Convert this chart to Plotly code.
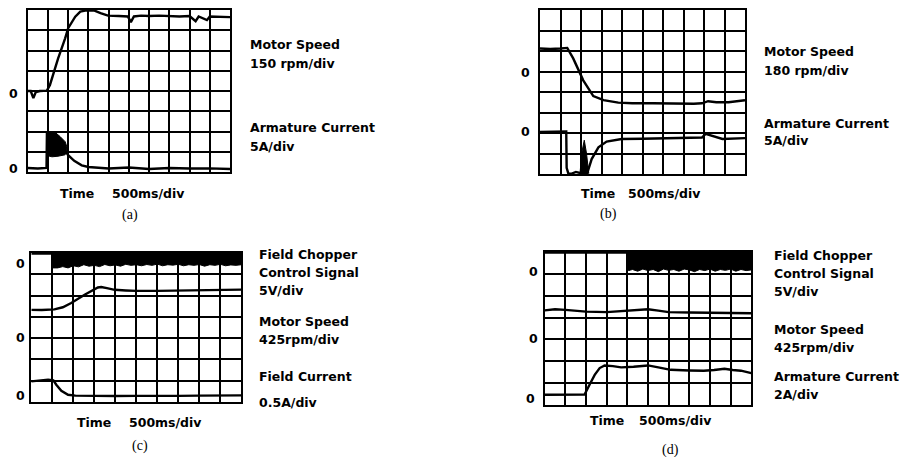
import plotly.graph_objects as go

W, H = 901, 457

# ---------------- data (divisions: x 0..10, y 0..rows) ----------------
# (a)
a_speed_x = [0, 0.15, 0.28, 0.4, 0.6, 0.95, 1.1, 1.5, 1.85, 2.0, 2.35, 2.6, 2.9, 3.3, 3.6, 3.97, 4.5, 4.95, 5.1, 5.25, 5.6, 6.0, 6.5, 7.0, 7.5, 8.0, 8.3, 8.45, 8.86, 9.0, 9.5, 10]
a_speed_y = [4.0, 4.0, 3.65, 3.95, 4.0, 4.02, 4.3, 5.6, 6.6, 7.1, 7.67, 7.92, 7.98, 7.97, 7.85, 7.72, 7.7, 7.68, 7.4, 7.68, 7.72, 7.7, 7.72, 7.7, 7.68, 7.7, 7.45, 7.68, 7.5, 7.68, 7.68, 7.65]
a_cur_x = [0, 0.5, 0.93, 0.95, 1.3, 1.9, 2.0, 2.3, 2.67, 3.0, 3.5, 4.0, 5.0, 6.0, 7.0, 8.0, 9.0, 10]
a_cur_y = [0.2, 0.17, 0.2, 1.92, 1.95, 1.0, 0.83, 0.55, 0.33, 0.25, 0.2, 0.17, 0.22, 0.15, 0.2, 0.17, 0.18, 0.15]
a_blob_x = [1.0, 1.4, 1.6, 1.85, 1.95, 1.85, 1.5, 1.2, 1.0]
a_blob_y = [1.9, 1.92, 1.75, 1.5, 1.2, 0.85, 0.78, 0.75, 0.8]

# (b)
b_speed_x = [0, 0.5, 1.0, 1.33, 1.62, 2.11, 2.6, 3.1, 3.82, 4.5, 5.5, 6.5, 7.5, 7.9, 8.2, 8.6, 9.2, 10]
b_speed_y = [6.12, 6.1, 6.12, 6.15, 5.64, 4.57, 3.8, 3.6, 3.48, 3.45, 3.45, 3.43, 3.43, 3.45, 3.55, 3.5, 3.5, 3.6]
b_cur_x = [0, 0.5, 1.28, 1.3, 1.38, 1.55, 1.75, 1.95, 2.3, 2.52, 2.85, 3.25, 3.98, 5.0, 6.0, 7.0, 7.9, 8.08, 8.5, 8.9, 10]
b_cur_y = [2.05, 2.07, 2.07, 0.3, 0.03, 0.02, 0.1, 0.05, 0.03, 0.73, 1.3, 1.58, 1.71, 1.72, 1.74, 1.75, 1.78, 1.96, 1.82, 1.71, 1.75]
b_spike_x = [1.95, 2.05, 2.16, 2.27, 2.38]
b_spike_y = [0.02, 1.1, 1.65, 1.0, 0.02]

# (c)
c_chop_x = [0, 0.5, 1.0, 1.02]
c_chop_y = [6.97, 6.97, 6.97, 6.3]
c_band_x = [1.0, 1.25, 1.5, 1.75, 2.0, 2.25, 2.5, 2.75, 3.0, 3.25, 3.5, 3.75, 4.0, 4.25, 4.5, 4.75, 5.0, 5.25, 5.5, 5.75, 6.0, 6.25, 6.5, 6.75, 7.0, 7.25, 7.5, 7.75, 8.0, 8.25, 8.5, 8.75, 9.0, 9.25, 9.5, 9.75, 10.0]
c_band_lo = [6.3, 6.3, 6.36, 6.3, 6.4, 6.35, 6.45, 6.38, 6.42, 6.36, 6.46, 6.4, 6.44, 6.38, 6.47, 6.42, 6.45, 6.4, 6.46, 6.42, 6.48, 6.4, 6.45, 6.43, 6.47, 6.4, 6.45, 6.42, 6.46, 6.38, 6.45, 6.42, 6.47, 6.4, 6.44, 6.42, 6.45]
c_speed_x = [0, 0.5, 1.1, 1.5, 1.9, 2.54, 3.17, 3.33, 3.6, 3.97, 4.5, 5.0, 6, 7, 8, 9, 10]
c_speed_y = [4.33, 4.32, 4.35, 4.45, 4.65, 5.04, 5.38, 5.4, 5.35, 5.27, 5.24, 5.22, 5.22, 5.24, 5.25, 5.27, 5.28]
c_field_x = [0, 0.4, 0.8, 1.05, 1.19, 1.43, 1.75, 2.1, 3, 4, 5, 6, 7, 8, 9, 10]
c_field_y = [0.97, 1.0, 1.05, 1.02, 0.81, 0.53, 0.34, 0.3, 0.28, 0.28, 0.29, 0.28, 0.29, 0.3, 0.3, 0.31]

# (d)
d_chop_x = [0, 2.0, 4.05, 4.07]
d_chop_y = [6.97, 6.97, 6.97, 6.15]
d_band_x = [4.05, 4.25, 4.5, 4.75, 5.0, 5.25, 5.5, 5.75, 6.0, 6.25, 6.5, 6.75, 7.0, 7.25, 7.5, 7.75, 8.0, 8.25, 8.5, 8.75, 9.0, 9.25, 9.5, 9.75, 10.0]
d_band_lo = [6.15, 6.2, 6.12, 6.22, 6.15, 6.2, 6.1, 6.22, 6.16, 6.2, 6.12, 6.22, 6.18, 6.1, 6.2, 6.15, 6.22, 6.12, 6.2, 6.16, 6.22, 6.12, 6.2, 6.15, 6.18]
d_speed_x = [0, 0.5, 1, 2, 3, 4, 4.5, 5, 5.5, 6, 7, 8, 9, 10]
d_speed_y = [4.33, 4.38, 4.35, 4.27, 4.25, 4.3, 4.35, 4.38, 4.32, 4.25, 4.23, 4.22, 4.2, 4.2]
d_cur_x = [0, 1, 1.93, 2.17, 2.42, 2.66, 2.9, 3.3, 3.7, 4.3, 5.0, 5.5, 6.1, 7, 7.7, 8.2, 8.7, 9.1, 9.5, 10]
d_cur_y = [0.47, 0.47, 0.48, 0.93, 1.38, 1.69, 1.81, 1.78, 1.72, 1.75, 1.81, 1.72, 1.61, 1.58, 1.57, 1.6, 1.66, 1.6, 1.57, 1.46]

# ---------------- layout helpers ----------------
panels = {
    # name: (left, right, top, bottom) in px, rows
    "a": ((27.7, 230, 10, 172), 8),
    "b": ((540, 745, 10, 174), 8),
    "c": ((31.3, 241.3, 253, 402), 7),
    "d": ((544.7, 751.3, 252, 405), 7),
}
axis_ids = {"a": "", "b": "2", "c": "3", "d": "4"}

fig = go.Figure()
LW = 2.4


def line(pid, xs, ys, width=LW):
    k = axis_ids[pid]
    fig.add_trace(go.Scatter(x=xs, y=ys, mode="lines", line=dict(color="black", width=width),
                             xaxis="x" + k, yaxis="y" + k, hoverinfo="skip", showlegend=False))


def poly(pid, xs, ys):
    k = axis_ids[pid]
    fig.add_trace(go.Scatter(x=xs, y=ys, mode="lines", fill="toself", fillcolor="black",
                             line=dict(color="black", width=1),
                             xaxis="x" + k, yaxis="y" + k, hoverinfo="skip", showlegend=False))


line("a", a_speed_x, a_speed_y)
line("a", a_cur_x, a_cur_y)
poly("a", a_blob_x, a_blob_y)

line("b", b_speed_x, b_speed_y)
line("b", b_cur_x, b_cur_y)
poly("b", b_spike_x, b_spike_y)

line("c", c_chop_x, c_chop_y)
poly("c", c_band_x + c_band_x[::-1], c_band_lo + [7.0] * len(c_band_x))
line("c", c_speed_x, c_speed_y)
line("c", c_field_x, c_field_y)

line("d", d_chop_x, d_chop_y)
poly("d", d_band_x + d_band_x[::-1], d_band_lo + [7.0] * len(d_band_x))
line("d", d_speed_x, d_speed_y)
line("d", d_cur_x, d_cur_y)

layout = dict(width=W, height=H, margin=dict(l=0, r=0, t=0, b=0),
              paper_bgcolor="white", plot_bgcolor="white", showlegend=False)
for pid, ((l, r, t, b), rows) in panels.items():
    k = axis_ids[pid]
    common = dict(showline=True, mirror=True, linecolor="black", linewidth=2,
                  showgrid=True, gridcolor="black", gridwidth=1.5, zeroline=False,
                  showticklabels=False, ticks="", fixedrange=True)
    layout["xaxis" + k] = dict(domain=[l / W, r / W], range=[0, 10], dtick=1,
                               anchor="y" + k, **common)
    layout["yaxis" + k] = dict(domain=[1 - b / H, 1 - t / H], range=[0, rows], dtick=1,
                               anchor="x" + k, **common)
fig.update_layout(**layout)

SANS = "DejaVu Sans"
SERIF = "Liberation Serif"
FS = 12.5


def txt(x, y, s, anchor="left", size=FS, family=SANS, weight="bold"):
    fig.add_annotation(x=x / W, y=1 - y / H, xref="paper", yref="paper", text=s,
                       showarrow=False, xanchor=anchor, yanchor="middle",
                       font=dict(family=family, size=size, color="black", weight=weight))


# zero labels
for (x, y) in [(13, 93), (13, 168), (525, 72.7), (525, 131.7),
               (20, 263.3), (20, 337.3), (20, 395),
               (533, 271.7), (533, 338.3), (530, 398.3)]:
    txt(x, y, "0", anchor="center")

# side labels
for (x, y, s) in [(248, 45, "Motor Speed"), (248, 63.3, "150 rpm/div"),
                  (248, 127.3, "Armature Current"), (248, 146, "5A/div"),
                  (761.7, 51.7, "Motor Speed"), (761.7, 70.7, "180 rpm/div"),
                  (761.7, 123.3, "Armature Current"), (761.7, 140.7, "5A/div"),
                  (256.7, 254, "Field Chopper"), (256.7, 272.3, "Control Signal"),
                  (256.7, 290, "5V/div"), (256.7, 321, "Motor Speed"),
                  (256.7, 339.3, "425rpm/div"), (256.7, 376.7, "Field Current"),
                  (256.7, 402.7, "0.5A/div"),
                  (771.7, 255, "Field Chopper"), (771.7, 273.3, "Control Signal"),
                  (771.7, 291.7, "5V/div"), (771.7, 329.3, "Motor Speed"),
                  (771.7, 347.7, "425rpm/div"), (771.7, 376.7, "Armature Current"),
                  (771.7, 394, "2A/div")]:
    txt(x, y, s)

# time labels
for (x, y, s) in [(77, 193, "Time"), (148, 193, "500ms/div"),
                  (597.5, 193.3, "Time"), (664, 193.3, "500ms/div"),
                  (93.7, 422.7, "Time"), (165, 422.7, "500ms/div"),
                  (606.7, 420, "Time"), (675.8, 420, "500ms/div")]:
    txt(x, y, s, anchor="center")

# captions
for (x, y, s) in [(130, 215, "(a)"), (608.3, 214, "(b)"),
                  (140, 446, "(c)"), (670, 449.5, "(d)")]:
    txt(x, y, s, anchor="center", size=14, family=SERIF, weight="normal")

fig.write_html("out.html", config={"displayModeBar": False},
               post_script="document.body.style.margin='0';document.body.style.overflow='hidden';")
